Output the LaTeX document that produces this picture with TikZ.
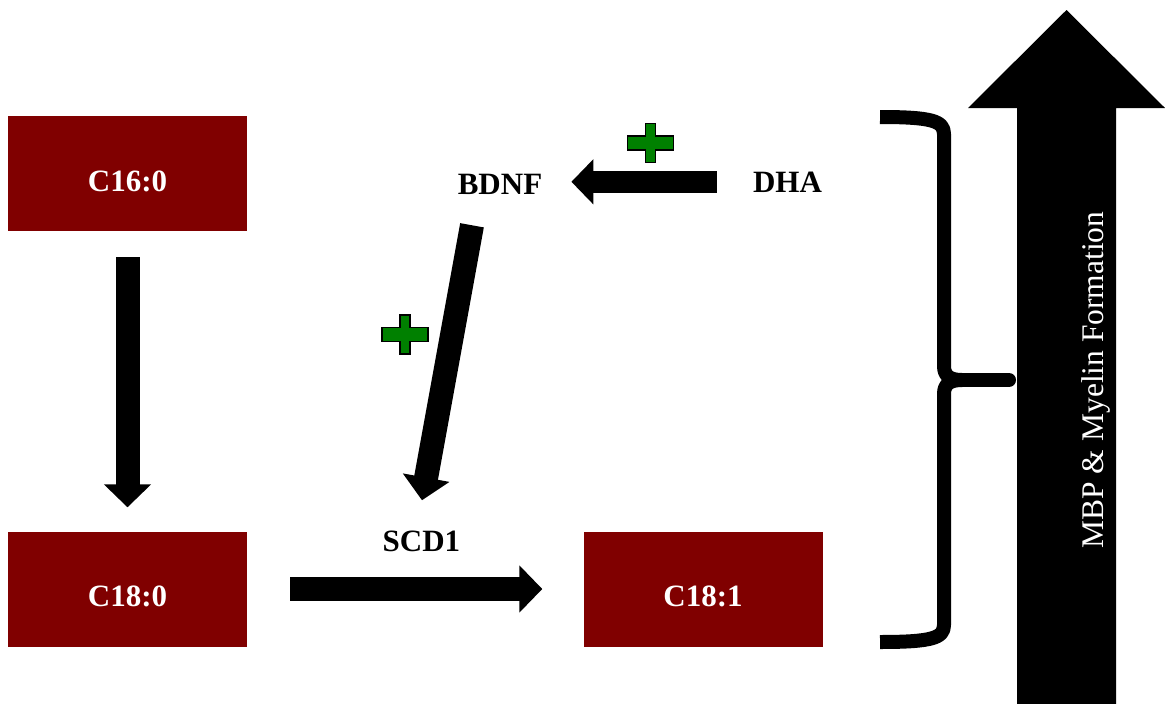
\documentclass[tikz,border=0pt]{standalone}
\usepackage{fontspec}
\setmainfont{Liberation Serif}
\usetikzlibrary{arrows.meta,calc}
\definecolor{boxred}{RGB}{128,0,0}
\definecolor{plusgreen}{RGB}{0,128,0}

\begin{document}
\begin{tikzpicture}[x=1pt,y=-1pt,
  acid/.style={fill=boxred, draw=none, minimum width=239pt, minimum height=115pt,
    inner sep=0pt, text=white, text height=35pt, text depth=0pt,
    font=\fontsize{31}{31}\selectfont\bfseries},
  enzyme/.style={inner sep=0pt, anchor=base, font=\fontsize{31}{31}\selectfont\bfseries},
  flow/.style={line width=24pt, -{Triangle[width=46pt,length=23pt]}},
  bracestroke/.style={line width=14pt, line cap=butt, line join=round},
  plussign/.pic={
    \filldraw[fill=plusgreen, draw=black, line width=1.5pt]
      (-5,-19.5) -- (5,-19.5) -- (5,-7) -- (23,-7) -- (23,7) -- (5,7) -- (5,19.5)
      -- (-5,19.5) -- (-5,7) -- (-23,7) -- (-23,-7) -- (-5,-7) -- cycle;
  }]
\useasboundingbox (0,0) rectangle (1165,704);

% fatty acid boxes
\node[acid] (c16)  at (127.5,173.5) {C16:0};
\node[acid] (c18a) at (127.5,589)   {C18:0};
\node[acid] (c18b) at (703,589)     {C18:1};

% regulators
\node[enzyme] (bdnf) at (500,194)   {BDNF};
\node[enzyme] (dha)  at (787.5,192) {DHA};
\node[enzyme] (scd1) at (421.5,551) {SCD1};

% pathway arrows
\draw[flow, shorten <=26pt, shorten >=24pt] (c16.south) -- (c18a.north);
\draw[flow, shorten <=43pt, shorten >=41pt] (c18a.east) -- (c18b.west);
\draw[flow, line width=22pt, -{Triangle[width=44pt,length=22pt]},
      shorten <=36pt, shorten >=29pt] (dha.west) -- (dha.west -| bdnf.east);
\draw[flow] ($(bdnf.south)+(-28,31)$) -- ($(scd1.north)+(0.5,-30)$);

% stimulation marks
\pic at (650.5,143) {plussign};
\pic at (405,334.5) {plussign};

% curly brace
\draw[bracestroke] (880,117) .. controls (932,117) and (944,121) .. (944,134)
  -- (944,366) .. controls (944,376) and (950,380) .. (962,380);
\draw[bracestroke] (880,642) .. controls (932,642) and (944,638) .. (944,625)
  -- (944,394) .. controls (944,384) and (950,380) .. (962,380);
\draw[bracestroke, line cap=round] (962,380) -- (1009,380);

% outcome arrow
\fill[black] (1017,704) -- (1017,108) -- (968,108) -- (1066.5,10) -- (1165,108)
  -- (1116,108) -- (1116,704) -- cycle;
\node[inner sep=0pt, anchor=base, rotate=90, text=white,
      font=\fontsize{31.5}{31.5}\selectfont] (mbp) at (1103,380)
  {MBP \& Myelin Formation};
\end{tikzpicture}
\end{document}
